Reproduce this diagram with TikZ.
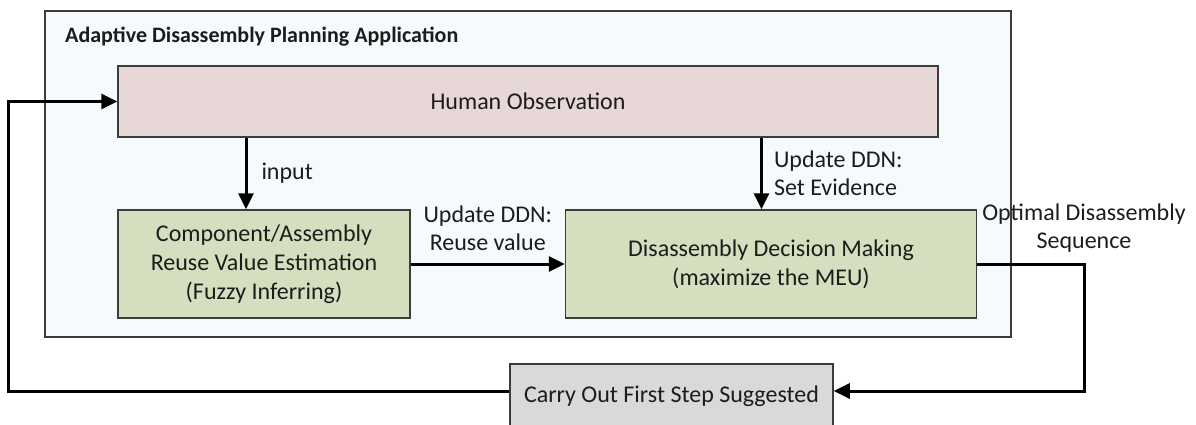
\documentclass[tikz,border=0pt]{standalone}
\usepackage{fontspec}
\setmainfont{Carlito}
\usepackage{tikz}
\usetikzlibrary{arrows.meta,positioning}
\definecolor{fundoapp}{RGB}{245,251,252}
\definecolor{rosado}{RGB}{231,215,215}
\definecolor{verdeclaro}{RGB}{212,223,191}
\definecolor{cinzaclaro}{RGB}{217,217,217}
\definecolor{contorno}{RGB}{60,60,60}
\definecolor{texto}{RGB}{28,28,28}

\begin{document}
\begin{tikzpicture}[x=1pt,y=1pt,
    caixa/.style={draw=contorno,line width=1.5pt,align=center,inner sep=0pt,
                  font=\fontsize{24}{29}\selectfont,text=texto},
    legenda/.style={inner sep=0pt,font=\fontsize{24}{28}\selectfont,text=texto},
    flecha/.style={-{Triangle[length=16pt,width=15pt]},line width=3pt,black}]
  \clip (0,0) rectangle (1196,-424);
  % moldura da aplicacao
  \node[caixa,fill=fundoapp,minimum width=966pt,minimum height=326pt] (app) at (528,-174) {};
  \node[anchor=base west,inner sep=0pt,font=\fontsize{22}{26}\selectfont\bfseries,text=texto]
       (titulo) at (65,-42) {Adaptive Disassembly Planning Application};
  \node[caixa,fill=rosado,minimum width=820pt,minimum height=71pt] (obs) at (528,-101.5) {Human Observation};
  \node[caixa,fill=verdeclaro,minimum width=292pt,minimum height=108pt] (reuso) at (264,-264)
       {Component/Assembly\\Reuse Value Estimation\\(Fuzzy Inferring)};
  \node[caixa,fill=verdeclaro,minimum width=411pt,minimum height=108pt,right=154pt of reuso] (decisao)
       {Disassembly Decision Making\\(maximize the MEU)};
  \node[caixa,fill=cinzaclaro,minimum width=323pt,minimum height=64pt] (acao) at (671.5,-396)
       {Carry Out First Step Suggested};
  % ligacoes
  \coordinate (entrada) at ([xshift=-18pt]reuso.north);
  \coordinate (evid) at ([xshift=-9.5pt]decisao.north);
  \coordinate (volta) at (1084,-264);
  \coordinate (retorno) at (8,-250);
  \draw[flecha] (entrada |- obs.south) -- node[legenda,right=14pt] {input} (entrada);
  \draw[flecha] (evid |- obs.south) -- node[legenda,right=11pt,align=left] {Update DDN:\\Set Evidence} (evid);
  \draw[flecha] (reuso) -- node[legenda,align=center,yshift=36pt] {Update DDN:\\Reuse value} (decisao);
  \draw[flecha] (decisao.east) -- (volta) |- ([yshift=5pt]acao.east);
  \node[legenda,align=center,yshift=36pt] (sequencia) at (volta) {Optimal Disassembly\\Sequence};
  \draw[flecha] ([yshift=5pt]acao.west) -| (retorno) |- (obs.west);
\end{tikzpicture}
\end{document}
